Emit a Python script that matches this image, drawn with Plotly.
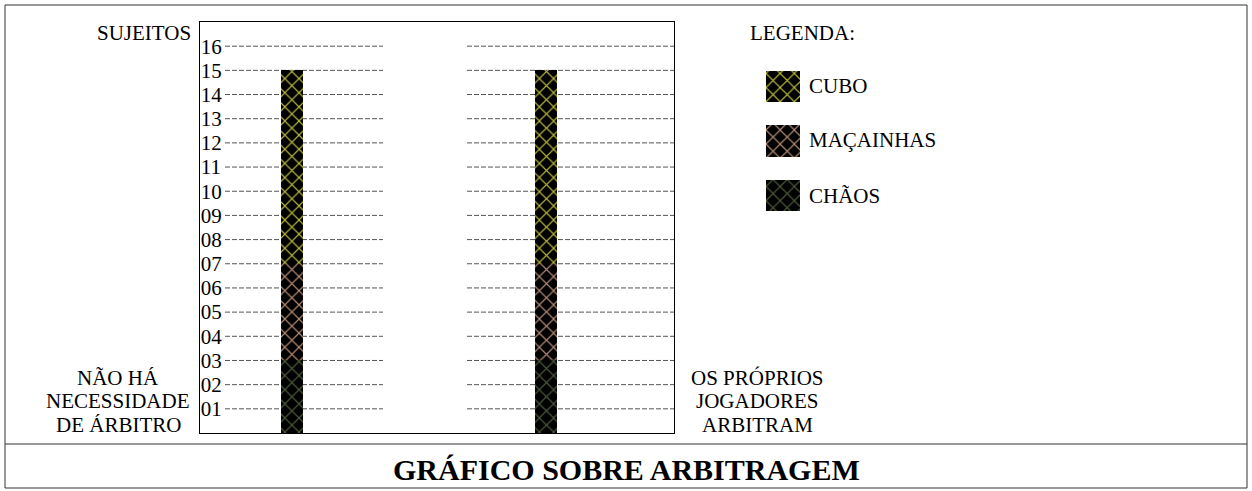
import plotly.graph_objects as go

# ---------------- data ----------------
categories = ["NÃO HÁ NECESSIDADE DE ÁRBITRO", "OS PRÓPRIOS JOGADORES ARBITRAM"]
series_names = ["CHÃOS", "MAÇAINHAS", "CUBO"]          # stacked bottom -> top
series_values = {
    "CHÃOS": [3, 3],
    "MAÇAINHAS": [4, 4],
    "CUBO": [8, 8],
}
legend_order = ["CUBO", "MAÇAINHAS", "CHÃOS"]
tick_values = list(range(1, 17))
tick_labels = [f"{v:02d}" for v in tick_values]
left_label_lines = ["NÃO HÁ", "NECESSIDADE", "DE ÁRBITRO"]
right_label_lines = ["OS PRÓPRIOS", "JOGADORES", "ARBITRAM"]
title_text = "GRÁFICO SOBRE ARBITRAGEM"
y_title = "SUJEITOS"
legend_title = "LEGENDA:"

# ---------------- styles ----------------
W, H = 1252, 491
FONT = "Liberation Serif, Times New Roman, serif"
colors = {"CUBO": "#b4b43c", "MAÇAINHAS": "#b08a72", "CHÃOS": "#4a5838"}


def px(x):
    return x / W


def py(y):
    return (H - y) / H


def pattern(name):
    return dict(shape="x", fgcolor=colors[name], fillmode="overlay",
                size=10, solidity=0.22, fgopacity=1)


fig = go.Figure()
xpos = list(range(len(categories)))
for name in series_names:
    fig.add_trace(go.Bar(
        x=xpos, y=series_values[name], name=name, width=0.0866,
        marker=dict(color="black", line=dict(width=0), pattern=pattern(name)),
        showlegend=False, hoverinfo="skip"))

# legend swatches on their own small axes
for i, name in enumerate(legend_order):
    fig.add_trace(go.Bar(
        x=[1], y=[i], orientation="h", width=0.57, xaxis="x2", yaxis="y2",
        marker=dict(color="black", line=dict(width=0), pattern=pattern(name)),
        showlegend=False, hoverinfo="skip"))

shapes = []
# dashed guide lines
for v in tick_values:
    for x0, x1 in [((225 - 200) / 474, (383 - 200) / 474), ((467 - 200) / 474, 1.0)]:
        shapes.append(dict(type="line", xref="x domain", yref="y", x0=x0, x1=x1, y0=v, y1=v,
                           line=dict(color="#555555", width=1, dash="5px,2px"), layer="below"))
# outer frame and separator
shapes.append(dict(type="rect", xref="paper", yref="paper", x0=px(5), x1=px(1247), y0=py(488), y1=py(5),
                   line=dict(color="#333333", width=1)))
shapes.append(dict(type="line", xref="paper", yref="paper", x0=px(5), x1=px(1247), y0=py(444), y1=py(444),
                   line=dict(color="#333333", width=1)))

annotations = []


def txt(s, x, y, anchor="center", size=21, bold=False):
    annotations.append(dict(text=f"<b>{s}</b>" if bold else s, x=px(x), y=py(y), xref="paper", yref="paper",
                            xanchor=anchor, yanchor="middle", showarrow=False,
                            font=dict(family=FONT, size=size, color="black")))


txt(y_title, 193, 33, anchor="right")
txt(legend_title, 748, 33, anchor="left")
for i, line in enumerate(left_label_lines):
    txt(line, 118, 378 + 23.5 * i)
for i, line in enumerate(right_label_lines):
    txt(line, 757, 378 + 23.5 * i)
legend_y = [86.5, 139.5, 195.5]
for name, yy in zip(legend_order, legend_y):
    txt(name, 807, yy, anchor="left")
txt(title_text, 626, 469, size=30, bold=True)

fig.update_layout(
    width=W, height=H, margin=dict(l=0, r=0, t=0, b=0),
    paper_bgcolor="white", plot_bgcolor="white", barmode="stack",
    shapes=shapes, annotations=annotations, showlegend=False,
    xaxis=dict(domain=[px(200), px(674)], range=[-0.3634, 1.5028], showticklabels=False,
               showgrid=False, zeroline=False, showline=True, mirror=True, linecolor="black",
               linewidth=1, ticks=""),
    yaxis=dict(domain=[py(433), py(22)], range=[0, 17], tickvals=tick_values, ticktext=tick_labels,
               ticklabelposition="inside", ticks="", ticklabelstandoff=2, showgrid=False, zeroline=False,
               showline=True, mirror=True, linecolor="black", linewidth=1,
               tickfont=dict(family=FONT, size=21, color="black")),
    xaxis2=dict(domain=[px(766), px(800)], range=[0, 1], visible=False, anchor="y2"),
    yaxis2=dict(domain=[py(222.75), py(59.25)], range=[2.5, -0.5], visible=False, anchor="x2"),
)

fig.write_html("out.html", config={"displayModeBar": False},
               post_script="document.body.style.margin='0';document.body.style.overflow='hidden';")
